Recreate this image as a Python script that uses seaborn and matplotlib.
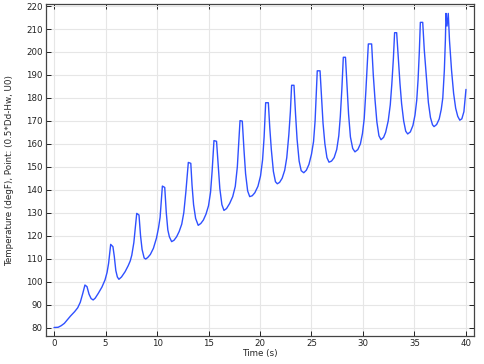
import numpy as np
import pandas as pd
import matplotlib
matplotlib.use("Agg")
import matplotlib.pyplot as plt
import seaborn as sns

time_s = [0.0, 0.4, 0.7, 1.0, 1.3, 1.6, 2.0, 2.3, 2.55, 2.8, 3.0, 3.2, 3.4, 3.6, 3.8,
          4.0, 4.3, 4.65, 4.95, 5.15, 5.3, 5.5, 5.72, 5.85, 6.0, 6.15, 6.3,
          6.55, 6.9, 7.2, 7.4, 7.55, 7.75, 8.03, 8.25, 8.4, 8.55, 8.75, 8.9,
          9.1, 9.35, 9.65, 9.95, 10.15, 10.3, 10.52, 10.75, 10.9, 11.05, 11.2, 11.42,
          11.65, 11.9, 12.15, 12.4, 12.6, 12.8, 13.04, 13.28, 13.4, 13.55, 13.75, 14.0,
          14.25, 14.5, 14.75, 15.0, 15.2, 15.35, 15.53, 15.78, 15.95, 16.1, 16.3, 16.5,
          16.75, 17.05, 17.35, 17.6, 17.8, 18.06, 18.28, 18.45, 18.6, 18.8, 19.0,
          19.25, 19.5, 19.8, 20.05, 20.25, 20.4, 20.55, 20.81, 20.95, 21.1, 21.3, 21.5, 21.68,
          21.9, 22.15, 22.4, 22.6, 22.8, 22.95, 23.07, 23.3, 23.45, 23.6, 23.8, 24.0, 24.25,
          24.5, 24.75, 25.0, 25.2, 25.35, 25.45, 25.56, 25.83, 25.98, 26.12, 26.3, 26.5, 26.7,
          26.95, 27.2, 27.45, 27.65, 27.8, 27.95, 28.09, 28.3, 28.45, 28.6, 28.78, 29.0, 29.22,
          29.5, 29.75, 29.95, 30.12, 30.28, 30.4, 30.52, 30.84, 31.0, 31.17, 31.35, 31.55, 31.75,
          32.0, 32.2, 32.45, 32.65, 32.8, 32.95, 33.07, 33.27, 33.42, 33.59, 33.75, 33.95, 34.15, 34.34,
          34.6, 34.85, 35.05, 35.22, 35.35, 35.47, 35.57, 35.8, 35.95, 36.15, 36.35, 36.55, 36.75, 36.9,
          37.15, 37.4, 37.6, 37.75, 37.9, 38.0, 38.06, 38.16, 38.28, 38.4, 38.6, 38.8, 39.0, 39.2, 39.4,
          39.6, 39.8, 40.0]

temperature_degF = [80.0, 80.1, 80.8, 81.8, 83.4, 85.0, 86.9, 88.6, 91.0, 95.0, 98.5, 97.8, 94.5, 92.6, 92.0,
                    92.8, 94.9, 97.6, 100.7, 104.0, 108.0, 116.2, 115.2, 111.0, 104.8, 102.0, 101.0,
                    102.0, 104.3, 106.9, 109.0, 111.5, 117.0, 129.7, 129.0, 120.0, 114.0, 110.3, 109.8,
                    110.5, 111.8, 114.5, 119.0, 123.5, 128.0, 141.6, 141.0, 130.0, 122.5, 119.5, 117.4,
                    118.0, 119.5, 121.8, 125.0, 130.0, 139.0, 151.9, 151.5, 142.0, 133.5, 127.5, 124.5,
                    125.3, 126.8, 129.3, 133.0, 139.0, 148.0, 161.4, 161.1, 150.0, 140.5, 133.5, 131.0,
                    131.8, 134.0, 137.0, 141.5, 150.0, 170.1, 169.9, 157.0, 147.0, 139.5, 137.0,
                    137.4, 138.7, 141.5, 146.0, 153.0, 163.0, 177.9, 177.9, 167.0, 157.5, 148.0, 143.5, 142.6,
                    143.2, 145.0, 148.5, 154.0, 164.0, 174.0, 185.5, 185.5, 173.0, 162.0, 152.5, 148.3, 147.4,
                    148.5, 151.0, 155.5, 161.0, 170.0, 180.0, 191.8, 191.8, 180.0, 169.0, 160.0, 154.0, 152.0,
                    152.5, 154.0, 157.5, 163.5, 172.0, 184.0, 197.7, 197.7, 185.0, 173.0, 163.0, 158.0, 156.5,
                    157.5, 160.0, 164.5, 171.0, 183.0, 193.0, 203.5, 203.5, 190.0, 179.1, 169.5, 163.5, 161.8,
                    162.8, 165.0, 170.0, 177.0, 186.0, 197.0, 208.4, 208.4, 198.0, 186.4, 177.5, 170.0, 165.5, 164.3,
                    165.2, 168.0, 172.5, 179.0, 188.0, 200.0, 212.9, 212.9, 201.0, 189.5, 178.0, 171.5, 168.3, 167.5,
                    168.4, 170.8, 175.0, 180.0, 192.0, 205.0, 216.8, 211.3, 216.8, 205.0, 192.0, 182.0, 175.5, 172.0, 170.3,
                    170.9, 174.0, 183.7]

x_ticks = [0, 5, 10, 15, 20, 25, 30, 35, 40]
y_ticks = [80, 90, 100, 110, 120, 130, 140, 150, 160, 170, 180, 190, 200, 210, 220]

df = pd.DataFrame({"t": time_s, "T": temperature_degF})

sns.set_style("white")
plt.rcParams["font.family"] = ["DejaVu Sans"]

fig = plt.figure(figsize=(4.84, 3.64), dpi=100)
ax = fig.add_axes([46 / 484, 1 - 336 / 364, (474 - 46) / 484, (336 - 4) / 364])

sns.lineplot(data=df, x="t", y="T", ax=ax, color="#2f50ff", linewidth=1.0, sort=False)

ax.set_xlim(-0.78, 40.78)
ax.set_ylim(76.3, 220.9)
ax.set_xticks(x_ticks)
ax.set_yticks(y_ticks)
ax.grid(True, color="#e6e6e6", linewidth=0.8)
ax.set_axisbelow(True)
ax.tick_params(direction="in", length=3.5, width=0.7, labelsize=6.2,
               top=True, right=True, bottom=True, left=True, pad=2.5, colors="#222222")
for s in ax.spines.values():
    s.set_color("#444444")
    s.set_linewidth(0.9)
ax.set_xlabel("Time (s)", fontsize=6.3, labelpad=0.5)
ax.set_ylabel("Temperature (degF), Point: (0.5*Dd-Hw, U0)", fontsize=6.3, labelpad=9)

fig.savefig("out.png", dpi=100)
